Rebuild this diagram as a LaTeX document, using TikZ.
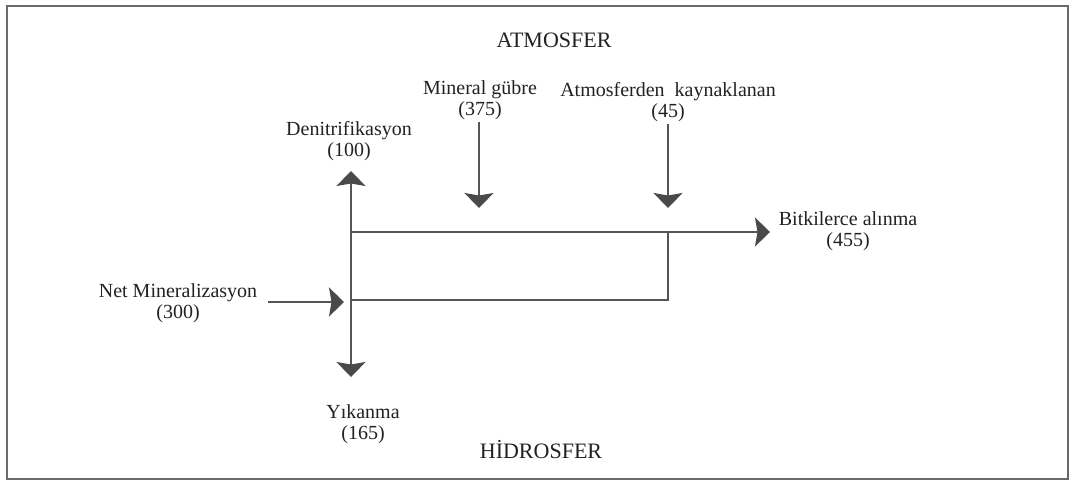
\documentclass[tikz,border=0pt]{standalone}
\usepackage{fontspec}
\setmainfont{Liberation Serif}
\usetikzlibrary{arrows.meta}
\definecolor{linegray}{HTML}{555555}
\definecolor{headgray}{HTML}{4A4A4A}
\definecolor{framegray}{HTML}{6A6A6A}
\definecolor{txt}{HTML}{222222}
\begin{document}
\begin{tikzpicture}[x=1pt,y=-1pt,
  lbl/.style={align=center,inner sep=0pt,text=txt,font=\fontsize{20}{21}\selectfont},
  big/.style={inner sep=0pt,text=txt,font=\fontsize{22}{24}\selectfont},
  flow/.style={draw=linegray,line width=2pt},
  arr/.style={flow,-{Stealth[length=15pt,width=29pt,inset=2.5pt,color=headgray,fill=headgray]}}]
\useasboundingbox (0,0) rectangle (1075,482);
\fill[white] (0,0) rectangle (1075,482);
\draw[framegray,line width=2.5pt] (7,6) rectangle (1068,479);
% labels
\node[big] (atm) at (554,40) {ATMOSFER};
\node[big] (hid) at (541,450) {HİDROSFER};
\node[lbl] (mg) at (480,100) {Mineral gübre\\(375)};
\node[lbl] (ak) at (668,102) {Atmosferden\ \ kaynaklanan\\(45)};
\node[lbl] (den) at (349,141) {Denitrifikasyon\\(100)};
\node[lbl] (bit) at (848,231) {Bitkilerce alınma\\(455)};
\node[lbl] (net) at (178,303) {Net Mineralizasyon\\(300)};
\node[lbl] (yik) at (363,424) {Yıkanma\\(165)};
% junction coordinates
\coordinate (j1) at (351,232);
\coordinate (j2) at (668,232);
\coordinate (j3) at (668,300);
\coordinate (j4) at (351,300);
\coordinate (tD) at (351,171);
\coordinate (tY) at (351,377);
\coordinate (tB) at (770,232);
\coordinate (tN) at (344,302);
\coordinate (sN) at (268,302);
\coordinate (sM) at (479,122);
\coordinate (tM) at (479,208);
\coordinate (sA) at (668,124);
\coordinate (tA) at (668,208);
% connectors
\draw[flow] (j2) -- (j3) -- (j4);
\draw[arr] (j4) -- (tD);
\draw[arr] (j4) -- (tY);
\draw[arr] (j1) -- (tB);
\draw[arr] (sN) -- (tN);
\draw[arr] (sM) -- (tM);
\draw[arr] (sA) -- (tA);
\end{tikzpicture}
\end{document}
